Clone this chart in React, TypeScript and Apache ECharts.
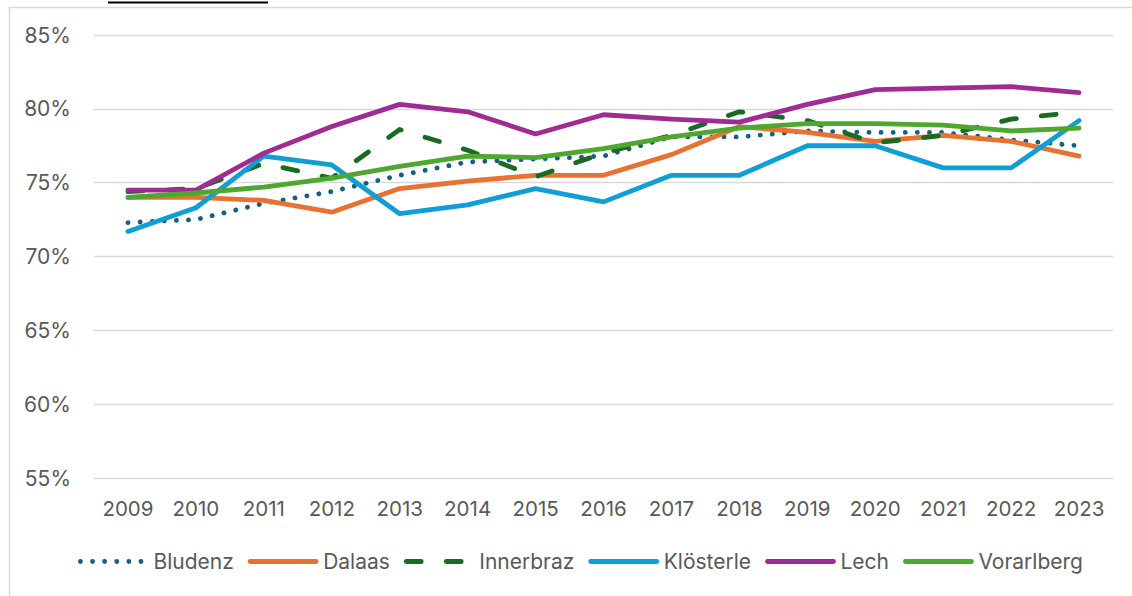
import React, { useEffect, useRef } from "react";
import * as echarts from "echarts";

const years = ["2009", "2010", "2011", "2012", "2013", "2014", "2015", "2016", "2017", "2018", "2019", "2020", "2021", "2022", "2023"];

const bludenz = [72.3, 72.5, 73.6, 74.4, 75.5, 76.4, 76.6, 76.8, 78.1, 78.1, 78.5, 78.4, 78.4, 77.9, 77.5];
const dalaas = [74.0, 74.0, 73.8, 73.0, 74.6, 75.1, 75.5, 75.5, 76.9, 78.8, 78.4, 77.8, 78.2, 77.8, 76.8];
const innerbraz = [74.4, 74.6, 76.3, 75.3, 78.6, 77.2, 75.4, 77.0, 78.2, 79.8, 79.2, 77.7, 78.2, 79.3, 79.8];
const kloesterle = [71.7, 73.3, 76.8, 76.2, 72.9, 73.5, 74.6, 73.7, 75.5, 75.5, 77.5, 77.5, 76.0, 76.0, 79.2];
const lech = [74.5, 74.5, 77.0, 78.8, 80.3, 79.8, 78.3, 79.6, 79.3, 79.1, 80.3, 81.3, 81.4, 81.5, 81.1];
const vorarlberg = [74.0, 74.3, 74.7, 75.3, 76.1, 76.8, 76.7, 77.3, 78.1, 78.7, 79.0, 79.0, 78.9, 78.5, 78.7];

const yMin = 55;
const yMax = 85;
const yStep = 5;

const FONT = "Inter, 'Liberation Sans', Arial, sans-serif";
const TEXT = "#595959";

export default function App() {
  const ref = useRef<HTMLDivElement>(null);
  useEffect(() => {
    const chart = echarts.init(ref.current!, null, { renderer: "svg" });
    const mk = (name: string, data: number[], color: string, type: any) => ({
      name,
      type: "line",
      data,
      symbol: "none",
      showSymbol: false,
      lineStyle: { color, width: 4.8, type, cap: "round", join: "round" },
      itemStyle: { color },
      emphasis: { disabled: true },
    });
    chart.setOption({
      animation: false,
      backgroundColor: "#ffffff",
      textStyle: { fontFamily: FONT },
      grid: { left: 94, right: 19, top: 35, bottom: 118, containLabel: false },
      xAxis: {
        type: "category",
        data: years,
        boundaryGap: true,
        axisLine: { show: false },
        axisTick: { show: false },
        axisLabel: { color: TEXT, fontSize: 20.5, fontFamily: FONT, margin: 20, interval: 0 },
        splitLine: { show: false },
      },
      yAxis: {
        type: "value",
        min: yMin,
        max: yMax,
        interval: yStep,
        axisLine: { show: false },
        axisTick: { show: false },
        axisLabel: { color: TEXT, fontSize: 21, fontFamily: FONT, margin: 23, formatter: "{value}%" },
        splitLine: { show: true, lineStyle: { color: "#D9D9D9", width: 1.3 } },
      },
      legend: {
        left: 73,
        top: 546,
        itemWidth: 66,
        itemHeight: 20,
        itemGap: 14,
        textStyle: { color: TEXT, fontSize: 21, fontFamily: FONT, padding: [0, 0, 0, 2] },
        lineStyle: { width: 4.8, cap: "round" },
        itemStyle: { opacity: 0, color: "rgba(0,0,0,0)", borderWidth: 0 },
        data: ["Bludenz", "Dalaas", "Innerbraz", "Klösterle", "Lech", "Vorarlberg"],
      },
      graphic: [
        {
          type: "rect",
          silent: true,
          shape: { x: 9.5, y: 7.5, width: 1300, height: 800 },
          style: { fill: "none", stroke: "#D9D9D9", lineWidth: 1.5 },
        },
        {
          type: "line",
          silent: true,
          shape: { x1: 108, y1: 2.5, x2: 268, y2: 2.5 },
          style: { stroke: "#000000", lineWidth: 2 },
        },
      ],
      series: [
        mk("Bludenz", bludenz, "#156082", [0.1, 12]),
        mk("Dalaas", dalaas, "#E97132", "solid"),
        mk("Innerbraz", innerbraz, "#196B24", [15, 25]),
        mk("Klösterle", kloesterle, "#0F9ED5", "solid"),
        mk("Lech", lech, "#A02B93", "solid"),
        mk("Vorarlberg", vorarlberg, "#4EA72E", "solid"),
      ],
    });
    return () => chart.dispose();
  }, []);
  return (
    <div
      ref={ref}
      style={{ position: "fixed", left: 0, top: 0, width: 1132, height: 596, background: "#fff" }}
    />
  );
}
